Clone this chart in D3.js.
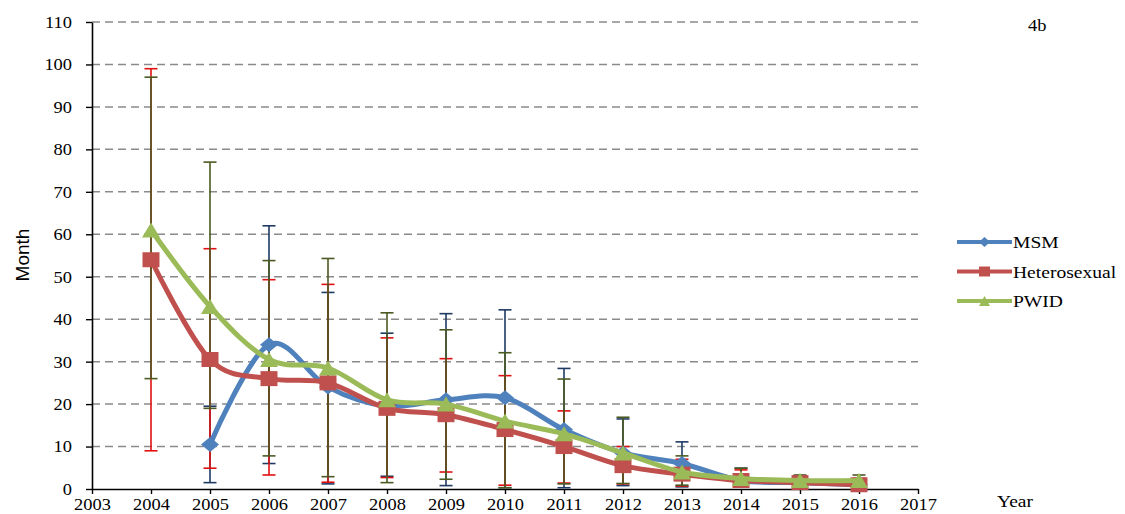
<!DOCTYPE html>
<html>
<head>
<meta charset="utf-8">
<script src="https://cdn.jsdelivr.net/npm/d3@7"></script>
<style>
  body { margin: 0; background: #fff; }
  svg { display: block; }
  .serif { font-family: 'Liberation Serif', 'Times New Roman', serif; }
</style>
</head>
<body>
<svg id="chart" width="1125" height="514"></svg>
<script>
// values
const years = [2004, 2005, 2006, 2007, 2008, 2009, 2010, 2011, 2012, 2013, 2014, 2015, 2016];
const msm = [null, 10.5, 34, 24, 19.5, 21, 21.5, 14, 8.5, 6, 2, 1.5, 1];
const msmLow = [null, 1.5, 6, 1.2, 3, 0.8, 0.3, 0.3, 0.8, 0.5, 1, 1, 0.5];
const msmHigh = [null, 19.5, 62, 46.3, 36.7, 41.3, 42.2, 28.4, 16.5, 11.1, 4.9, 3, 2];
const hetero = [54, 30.5, 26, 25, 19, 17.5, 14, 10, 5.5, 3.5, 2, 1.5, 1];
const heteroLow = [9, 4.9, 3.3, 1.6, 2.7, 4, 0.9, 1.4, 1.2, 0.7, 1, 0.8, 0.5];
const heteroHigh = [99, 56.6, 49.3, 48.2, 35.6, 30.7, 26.7, 18.4, 10, 7, 4.5, 3, 2.5];
const pwid = [61, 43, 30.5, 28.5, 21, 20, 16, 13, 8.5, 4, 2.5, 2, 2];
const pwidLow = [26, 19, 7.8, 2.9, 1.5, 2.3, 0.3, 1.2, 1.3, 0.9, 1.5, 1, 1];
const pwidHigh = [97, 77, 53.8, 54.3, 41.5, 37.5, 32.1, 25.9, 16.9, 7.8, 4.9, 3.3, 3.3];
const seriesNames = ['MSM', 'Heterosexual', 'PWID'];
const xTicks = d3.range(2003, 2018);
const yTicks = d3.range(0, 111, 10);

const svg = d3.select('#chart');
const margin = {top: 22, right: 207, bottom: 25, left: 92};
const width = +svg.attr('width');
const height = +svg.attr('height');
const innerWidth = width - margin.left - margin.right;
const innerHeight = height - margin.top - margin.bottom;
const g = svg.append('g')
  .attr('transform', `translate(${margin.left}, ${margin.top})`);

const xScale = d3.scaleLinear().domain([2003, 2017]).range([0, innerWidth]);
const yScale = d3.scaleLinear().domain([0, 110]).range([innerHeight, 0]);

// text in the picture is drawn a bit wide
const stretch = 1.15;
const widen = sel => sel.each(function() {
  const w = this.getComputedTextLength();
  d3.select(this).attr('textLength', w * stretch).attr('lengthAdjust', 'spacingAndGlyphs');
});

const series = [
  {name: seriesNames[0], values: msm, low: msmLow, high: msmHigh, color: '#4f81bd', barColor: '#1f3a63', marker: 'diamond'},
  {name: seriesNames[1], values: hetero, low: heteroLow, high: heteroHigh, color: '#c0504d', barColor: '#e01010', marker: 'square'},
  {name: seriesNames[2], values: pwid, low: pwidLow, high: pwidHigh, color: '#9bbb59', barColor: '#4b5a22', marker: 'triangle'}
];

const markerPath = (type, w, h) => {
  const a = w / 2, b = h / 2;
  if (type === 'diamond') return `M0,${-b}L${a},0L0,${b}L${-a},0Z`;
  if (type === 'square') return `M${-a},${-b}H${a}V${b}H${-a}Z`;
  return `M0,${-b}L${a},${b}L${-a},${b}Z`;
};

// gridlines
g.append('g').selectAll('line').data(yTicks.filter(d => d > 0)).enter().append('line')
  .attr('x1', 0)
  .attr('x2', innerWidth)
  .attr('y1', d => yScale(d))
  .attr('y2', d => yScale(d))
  .attr('stroke', '#8a8a8a')
  .attr('stroke-width', 1.5)
  .attr('stroke-dasharray', '8,5');

// axes
const xAxis = d3.axisBottom(xScale).tickValues(xTicks).tickFormat(d3.format('d')).tickSize(5).tickSizeOuter(0);
const yAxis = d3.axisLeft(yScale).tickValues(yTicks).tickSize(6).tickSizeOuter(0);

const xAxisGroup = g.append('g')
  .attr('transform', `translate(0, ${innerHeight})`)
  .call(xAxis);
const yAxisGroup = g.append('g').call(yAxis);

[xAxisGroup, yAxisGroup].forEach(ax => {
  ax.attr('font-family', null).attr('font-size', null);
  ax.select('.domain').attr('stroke', '#000').attr('stroke-width', 1.6);
  ax.selectAll('.tick line').attr('stroke', '#000').attr('stroke-width', 1.4);
  ax.selectAll('.tick text')
    .attr('class', 'serif')
    .style('font-size', '16px')
    .attr('fill', '#000');
});
xAxisGroup.selectAll('.tick text')
  .attr('x', 0).attr('y', 21).attr('dy', null)
  .call(widen);
yAxisGroup.selectAll('.tick text')
  .attr('x', -20).attr('dy', '0.34em')
  .call(widen);

// axis titles
svg.append('text')
  .attr('transform', 'rotate(-90)')
  .attr('x', -255)
  .attr('y', 29)
  .attr('text-anchor', 'middle')
  .style('font-family', "'Liberation Sans', Arial, sans-serif")
  .style('font-size', '19px')
  .text('Month');
svg.append('text')
  .attr('class', 'serif')
  .attr('x', 997)
  .attr('y', 507)
  .style('font-size', '17px')
  .text('Year')
  .call(widen);
svg.append('text')
  .attr('class', 'serif')
  .attr('x', 1028)
  .attr('y', 31)
  .style('font-size', '16px')
  .text('4b')
  .call(widen);

// error bars
const cap = 6.5;
series.forEach(s => {
  const rows = years.map((year, i) => ({year, low: s.low[i], high: s.high[i]})).filter(d => d.low != null);
  const bars = g.append('g').attr('class', 'errorbars').attr('stroke', s.barColor).attr('stroke-width', 1.6);
  bars.selectAll('.stem').data(rows).enter().append('line')
    .attr('class', 'stem')
    .attr('x1', d => xScale(d.year)).attr('x2', d => xScale(d.year))
    .attr('y1', d => yScale(d.low)).attr('y2', d => yScale(d.high));
  ['low', 'high'].forEach(k => {
    bars.selectAll('.cap-' + k).data(rows).enter().append('line')
      .attr('class', 'cap-' + k)
      .attr('x1', d => xScale(d.year) - cap).attr('x2', d => xScale(d.year) + cap)
      .attr('y1', d => yScale(d[k])).attr('y2', d => yScale(d[k]));
  });
});

// smoothed lines with markers
const line = d3.line()
  .x(d => xScale(d.year))
  .y(d => yScale(d.value))
  .curve(d3.curveCatmullRom.alpha(0));

series.forEach(s => {
  const rows = years.map((year, i) => ({year, value: s.values[i]})).filter(d => d.value != null);
  g.append('path')
    .datum(rows)
    .attr('fill', 'none')
    .attr('stroke', s.color)
    .attr('stroke-width', 5)
    .attr('stroke-linejoin', 'round')
    .attr('d', line);
  g.append('g').selectAll('path').data(rows).enter().append('path')
    .attr('transform', d => `translate(${xScale(d.year)}, ${yScale(d.value)})`)
    .attr('d', s.marker === 'square' ? markerPath('square', 17, 15) : markerPath(s.marker, 18, 15))
    .attr('fill', s.color);
});

// legend
const legend = svg.append('g').attr('transform', 'translate(957, 242)');
const legendItem = legend.selectAll('g').data(series).enter().append('g')
  .attr('transform', (d, i) => `translate(0, ${i * 29.5})`);
legendItem.append('line')
  .attr('x1', 0).attr('x2', 55)
  .attr('stroke', d => d.color)
  .attr('stroke-width', 4);
legendItem.append('path')
  .attr('transform', 'translate(27.5, 0)')
  .attr('d', d => d.marker === 'square' ? markerPath('square', 11, 10) : markerPath(d.marker, 11, 10))
  .attr('fill', d => d.color);
legendItem.append('text')
  .attr('class', 'serif')
  .attr('x', 56)
  .attr('y', 6)
  .style('font-size', '17px')
  .text(d => d.name)
  .call(widen);
</script>
</body>
</html>
